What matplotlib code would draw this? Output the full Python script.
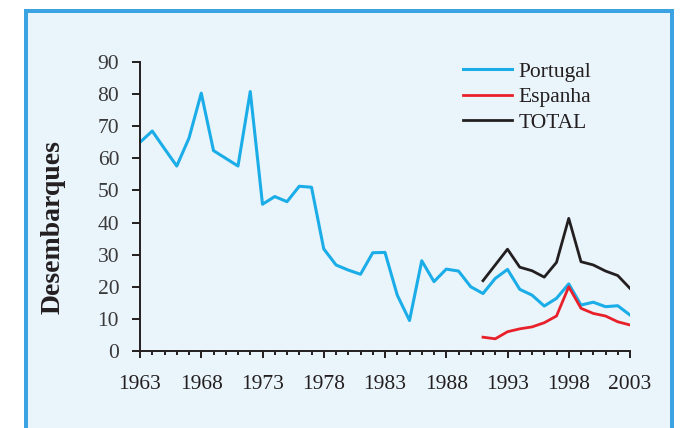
import matplotlib
matplotlib.use("Agg")
import matplotlib.pyplot as plt
from matplotlib.patches import Rectangle
from matplotlib.ticker import MultipleLocator

years_pt = list(range(1963, 2004))
portugal = [65.0, 68.5, 63.0, 57.6, 66.3, 80.3, 62.4, 60.0, 57.6, 80.8,
            45.7, 48.1, 46.5, 51.3, 51.0, 31.8, 26.8, 25.2, 23.9, 30.6,
            30.7, 17.4, 9.5, 28.1, 21.6, 25.5, 24.9, 20.0, 17.9, 22.6,
            25.4, 19.2, 17.4, 14.0, 16.4, 20.9, 14.3, 15.2, 13.8, 14.1, 11.2]
years_es = list(range(1991, 2004))
espanha = [4.3, 3.8, 6.0, 6.9, 7.5, 8.8, 10.9, 20.0, 13.3, 11.7, 10.9, 9.1, 8.1]
total = [21.9, 26.8, 31.7, 26.1, 25.0, 23.0, 27.6, 41.3, 27.8, 26.8, 24.9, 23.5, 19.5]
xticks = [1963, 1968, 1973, 1978, 1983, 1988, 1993, 1998, 2003]
yticks = list(range(0, 91, 10))

W, H = 681, 428
plt.rcParams['font.family'] = ['Liberation Serif', 'DejaVu Serif']
fig = plt.figure(figsize=(W/100, H/100), dpi=100, facecolor='white')

# background box
box = Rectangle((26.5/W, -0.1), (672-26.5)/W, (H-10.5)/H + 0.1,
                transform=fig.transFigure, facecolor='#EAF4FB',
                edgecolor='#3BA3E2', linewidth=4*0.72, zorder=-10)
fig.patches.append(box)

ax = fig.add_axes([140/W, (H-351)/H, 490/W, 289/H])
ax.set_facecolor('none')
ax.set_zorder(5)

ax.plot(years_pt, portugal, color='#1BADE8', lw=2.2, label='Portugal')
ax.plot(years_es, espanha, color='#E8202A', lw=2.0, label='Espanha')
ax.plot(years_es, total, color='#231F20', lw=2.0, label='TOTAL')
ax.set_xlim(1963, 2003)
ax.set_ylim(0, 90)
ax.set_xticks(xticks)
ax.xaxis.set_minor_locator(MultipleLocator(1))
ax.set_yticks(yticks)
for s in ['top', 'right']:
    ax.spines[s].set_visible(False)
for s in ['left', 'bottom']:
    ax.spines[s].set_color('#231F20')
    ax.spines[s].set_linewidth(1.4)
ax.tick_params(axis='x', which='major', direction='out', length=5, width=1.4,
               color='#231F20', labelsize=15.5, pad=12, labelcolor='#231F20')
ax.tick_params(axis='x', which='minor', direction='out', length=3, width=1.4,
               color='#231F20')
ax.tick_params(axis='y', which='major', direction='out', length=6, width=1.4,
               color='#231F20', labelsize=15.5, pad=9, labelcolor='#3a3a3a')

fig.text(53/W, 1 - 227/H, 'Desembarques', rotation=90, ha='center', va='center',
         fontsize=20, fontweight='bold', color='#231F20')

leg = ax.legend(loc='upper left', bbox_to_anchor=((454-140)/490, 1 + (62-53)/289),
                frameon=False, fontsize=15.5, handlelength=2.3, handletextpad=0.3,
                labelspacing=0.26, borderaxespad=0)
for t in leg.get_texts():
    t.set_color('#231F20')

fig.savefig('out.png', dpi=100, facecolor='white')
